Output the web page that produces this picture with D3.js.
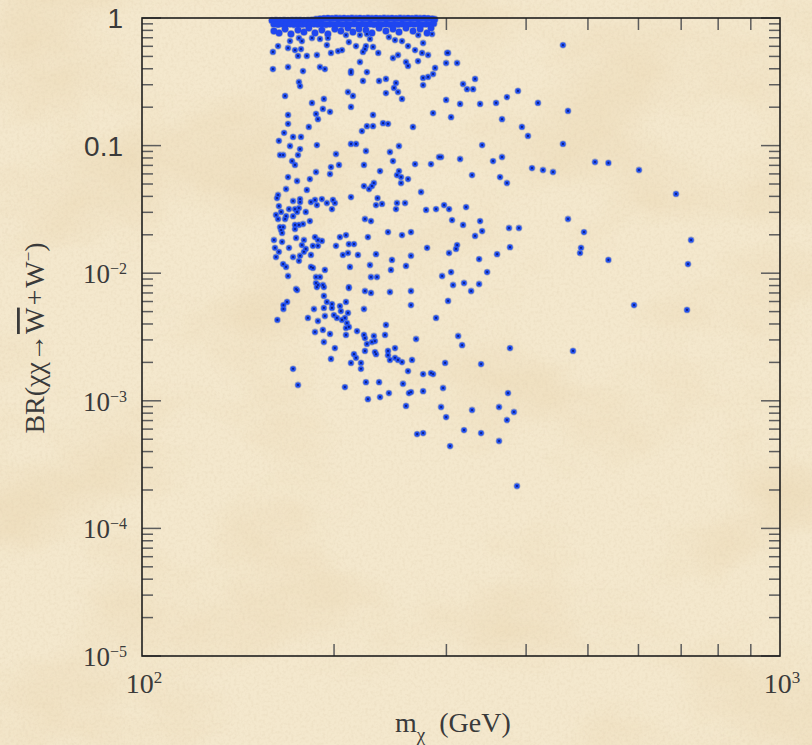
<!DOCTYPE html>
<html><head><meta charset="utf-8">
<script src="https://cdn.jsdelivr.net/npm/d3@7"></script>
<style>html,body{margin:0;padding:0;background:#f3e7cb;overflow:hidden}</style>
</head><body><svg id="chart" width="812" height="745"></svg>
<script>
// ---------------- data ----------------
const xMinorTicks = [200,300,400,500,600,700,800,900];
const yDecades = [1e-5,1e-4,1e-3,1e-2,1e-1,1];
const yMinorFactors = [2,3,4,5,6,7,8,9];
const xTickLabels = [{v:100,base:"10",exp:"2"},{v:1000,base:"10",exp:"3"}];
const yTickLabels = [
  {v:1,text:"1"},{v:0.1,text:"0.1"},
  {v:1e-2,base:"10",exp:"\u22122"},{v:1e-3,base:"10",exp:"\u22123"},
  {v:1e-4,base:"10",exp:"\u22124"},{v:1e-5,base:"10",exp:"\u22125"}
];

// dense band of models with BR close to 1: [mass GeV, BR]
const bandRow1 = [
 [159.9,0.955],[162.2,0.958],[164.6,0.955],[167.0,0.957],[169.4,0.955],[171.9,0.958],[174.4,0.956],[176.9,0.957],[179.4,0.955],[182.0,0.958],
 [184.7,0.962],[187.4,0.975],[190.1,0.985],[192.8,0.990],[195.6,0.995],[198.5,0.990],[201.4,0.996],[204.3,0.992],[207.3,0.995],[210.3,0.990],
 [213.3,0.996],[216.5,0.992],[219.6,0.995],[222.8,0.990],[226.0,0.996],[229.3,0.992],[232.7,0.995],[236.1,0.990],[239.5,0.996],[243.0,0.992],
 [246.5,0.995],[250.1,0.990],[253.8,0.996],[257.5,0.992],[261.2,0.995],[265.0,0.990],[268.9,0.996],[272.8,0.992],[276.8,0.995],[280.8,0.990],[284.9,0.985],[287.5,0.975]
];
const bandRow2 = [
 [161.0,0.895],[163.4,0.890],[165.8,0.898],[168.2,0.892],[170.6,0.897],[173.1,0.889],[175.6,0.896],[178.1,0.891],[180.7,0.898],[183.3,0.890],
 [186.0,0.896],[188.7,0.892],[191.4,0.898],[194.2,0.889],[197.0,0.896],[199.9,0.891],[202.8,0.898],[205.8,0.890],[208.8,0.896],[211.8,0.892],
 [214.9,0.898],[218.0,0.889],[221.2,0.896],[224.4,0.891],[227.7,0.898],[231.0,0.890],[234.4,0.896],[237.8,0.892],[241.2,0.898],[244.7,0.889],
 [248.3,0.896],[251.9,0.891],[255.6,0.898],[259.3,0.890],[263.1,0.896],[266.9,0.892],[270.8,0.898],[274.8,0.889],[278.8,0.896],[282.8,0.891],[286.5,0.905]
];
const bandRow3 = [
 [161.0,0.791],[164.0,0.763],[167.6,0.820],[171.2,0.749],[175.6,0.805],[179.4,0.777],[182.6,0.835],[186.7,0.763],[191.4,0.805],[195.6,0.749],
 [200.6,0.820],[205.0,0.791],[210.3,0.835],[214.1,0.777],[218.8,0.820],[224.4,0.805],[229.3,0.763],[235.3,0.835],[241.2,0.791],[247.4,0.820],
 [252.8,0.777],[259.3,0.835],[266.0,0.791],[272.8,0.820],[279.8,0.763],[283.8,0.835]
];

// scattered models: [mass GeV, BR]
const scatterPoints = [
 [160.4,0.542],[163.4,0.603],[170.6,0.660],[169.4,0.582],[173.7,0.561],[177.5,0.571],[175.6,0.504],[181.3,0.504],[188.0,0.513],[176.2,0.697],
 [178.1,0.660],[184.7,0.697],[190.1,0.685],[195.6,0.697],[194.9,0.614],[197.8,0.532],[202.9,0.551],[205.8,0.561],[208.8,0.736],[211.0,0.648],
 [216.5,0.603],[219.6,0.736],[225.2,0.749],[227.7,0.685],[230.2,0.593],[224.4,0.603],[222.0,0.542],[223.6,0.571],[234.6,0.532],[219.6,0.452],
 [243.8,0.710],[249.2,0.672],[255.6,0.660],[251.9,0.513],[247.4,0.486],[261.2,0.603],[267.9,0.561],[274.8,0.532],[280.8,0.513],[271.0,0.736],
 [275.8,0.637],[284.9,0.749],[300.8,0.532],[259.3,0.452],[261.2,0.421],[270.8,0.460],[288.0,0.406],[299.7,0.444],[311.8,0.444],[160.4,0.398],
 [169.4,0.413],[178.8,0.384],[190.1,0.413],[193.5,0.398],[212.6,0.384],[212.6,0.371],[225.2,0.377],[176.2,0.315],[176.9,0.293],[222.0,0.321],
 [235.3,0.321],[241.2,0.333],[250.1,0.310],[248.3,0.283],[251.9,0.263],[275.8,0.339],[280.8,0.345],[285.9,0.364],[275.8,0.298],[167.6,0.245],
 [184.7,0.216],[192.8,0.232],[210.3,0.263],[214.1,0.245],[241.2,0.258],[255.6,0.232],[299.7,0.228],[212.6,0.201],[192.1,0.194],[197.1,0.184],
 [187.4,0.177],[188.7,0.161],[169.4,0.174],[169.4,0.148],[182.6,0.140],[230.2,0.174],[230.2,0.142],[221.2,0.130],[225.2,0.142],[238.7,0.150],
 [243.0,0.148],[265.9,0.140],[285.9,0.180],[456.9,0.614],[301.8,0.532],[318.6,0.304],[332.7,0.333],[323.2,0.277],[330.3,0.277],[388.4,0.268],
 [315.2,0.212],[338.8,0.212],[358.9,0.216],[373.3,0.240],[417.5,0.216],[465.3,0.187],[305.1,0.167],[366.7,0.161],[394.0,0.140],[402.7,0.119],
 [341.3,0.101],[456.9,0.103],[294.3,0.0814],[315.2,0.0785],[355.0,0.0757],[366.7,0.0814],[408.6,0.0667],[425.1,0.0644],[440.8,0.0621],[512.9,0.0744],
 [538.3,0.0731],[601.2,0.0644],[687.1,0.0418],[329.1,0.0588],[364.1,0.0567],[373.3,0.0509],[297.5,0.0342],[302.9,0.0318],[322.1,0.0330],[306.2,0.0261],
 [318.6,0.0239],[338.8,0.0256],[341.3,0.0214],[332.7,0.0196],[376.1,0.0226],[389.8,0.0226],[465.3,0.0266],[492.9,0.0210],[725.4,0.0182],[311.8,0.0166],
 [310.6,0.0155],[302.9,0.0144],[377.4,0.0160],[360.2,0.0141],[487.7,0.0158],[485.9,0.0144],[337.6,0.0129],[538.3,0.0127],[717.5,0.0118],[305.1,0.0102],
 [347.5,0.0102],[295.4,0.00951],[307.3,0.00808],[319.7,0.00838],[337.6,0.00823],[328.0,0.00725],[301.8,0.00606],[590.5,0.00563],[714.9,0.00515],[313.0,0.00322],
 [317.5,0.00273],[377.4,0.00259],[473.8,0.00246],[298.6,0.00198],[340.0,0.00194],[296.4,0.00126],[374.7,0.00115],[294.3,0.000894],[329.1,0.000847],[362.8,0.000894],
 [382.8,0.000817],[373.3,0.000707],[299.7,0.000746],[319.7,0.000590],[340.0,0.000559],[362.8,0.000484],[304.0,0.000442],[387.0,0.000215],[175.0,0.00738],[188.0,0.00779],
 [192.8,0.00779],[211.0,0.00765],[223.6,0.00725],[228.5,0.00700],[244.7,0.00712],[264.0,0.00725],[168.8,0.00595],[166.6,0.00563],[166.6,0.00524],[192.8,0.00663],
 [194.9,0.00595],[198.5,0.00573],[204.3,0.00553],[208.8,0.00595],[186.0,0.00524],[192.8,0.00534],[198.5,0.00534],[205.0,0.00505],[210.3,0.00488],[222.8,0.00524],
 [264.0,0.00563],[163.0,0.00430],[182.0,0.00446],[188.7,0.00422],[193.5,0.00462],[199.9,0.00470],[202.1,0.00446],[205.8,0.00430],[208.0,0.00446],[209.5,0.00407],
 [208.8,0.00372],[211.0,0.00379],[289.0,0.00446],[241.2,0.00393],[186.7,0.00346],[192.1,0.00359],[197.1,0.00334],[208.8,0.00328],[217.3,0.00352],[222.8,0.00328],
 [223.6,0.00310],[230.9,0.00322],[240.4,0.00328],[268.9,0.00305],[192.8,0.00289],[225.2,0.00279],[229.3,0.00289],[231.8,0.00294],[200.6,0.00259],[223.6,0.00246],
 [231.8,0.00241],[232.7,0.00232],[243.0,0.00246],[249.2,0.00259],[243.0,0.00228],[249.2,0.00217],[251.9,0.00209],[255.6,0.00201],[244.7,0.00209],[214.9,0.00232],
 [216.5,0.00217],[197.8,0.00213],[212.6,0.00198],[220.4,0.00198],[265.0,0.00209],[220.4,0.00178],[172.5,0.00178],[261.2,0.00171],[275.8,0.00162],[283.8,0.00165],
 [285.9,0.00162],[175.6,0.00133],[208.0,0.00128],[224.4,0.00140],[235.3,0.00140],[256.5,0.00136],[243.8,0.00115],[262.1,0.00115],[264.0,0.00117],[275.8,0.00119],
 [226.0,0.00103],[236.1,0.00107],[259.3,0.000911],[269.9,0.000549],[275.8,0.000559],[167.0,0.126],[172.5,0.117],[177.5,0.117],[163.9,0.109],[170.6,0.0993],
 [176.9,0.0940],[188.0,0.101],[212.6,0.103],[216.5,0.103],[224.4,0.0907],[252.8,0.0993],[164.6,0.0844],[166.4,0.0844],[175.6,0.0844],[201.4,0.0859],
 [244.7,0.0891],[247.4,0.0757],[292.2,0.0814],[171.9,0.0757],[173.7,0.0705],[267.9,0.0717],[283.8,0.0717],[197.8,0.0679],[203.6,0.0705],[187.4,0.0621],
 [197.1,0.0599],[222.8,0.0705],[236.1,0.0632],[252.8,0.0632],[251.0,0.0588],[254.7,0.0567],[261.2,0.0547],[169.4,0.0567],[175.0,0.0528],[183.3,0.0547],
 [254.7,0.0509],[222.8,0.0482],[226.9,0.0457],[230.9,0.0509],[229.3,0.0482],[181.3,0.0449],[273.8,0.0433],[168.2,0.0457],[163.4,0.0410],[162.8,0.0388],
 [212.6,0.0395],[234.0,0.0388],[172.5,0.0368],[176.9,0.0381],[176.9,0.0361],[184.0,0.0361],[186.7,0.0375],[191.4,0.0381],[188.0,0.0342],[194.9,0.0355],
 [199.2,0.0375],[200.6,0.0355],[198.5,0.0318],[232.7,0.0342],[237.8,0.0349],[251.0,0.0355],[250.1,0.0318],[258.4,0.0355],[278.8,0.0313],[289.0,0.0318],
 [163.9,0.0336],[170.0,0.0318],[173.7,0.0318],[176.2,0.0324],[180.6,0.0302],[162.2,0.0286],[165.2,0.0302],[168.2,0.0280],[172.5,0.0280],[175.0,0.0302],
 [163.4,0.0266],[167.6,0.0266],[223.6,0.0266],[228.5,0.0256],[183.3,0.0256],[173.7,0.0239],[176.2,0.0239],[178.8,0.0243],[164.6,0.0230],[166.4,0.0230],
 [165.2,0.0218],[165.8,0.0207],[173.7,0.0222],[243.0,0.0210],[264.0,0.0210],[255.6,0.0199],[226.0,0.0192],[161.0,0.0182],[165.8,0.0176],[174.4,0.0189],
 [179.4,0.0182],[186.7,0.0192],[188.7,0.0182],[191.4,0.0179],[204.3,0.0192],[208.8,0.0199],[161.6,0.0158],[170.0,0.0158],[178.1,0.0166],[180.6,0.0155],
 [185.3,0.0164],[188.7,0.0164],[201.4,0.0164],[211.0,0.0169],[214.9,0.0169],[279.8,0.0158],[163.9,0.0147],[162.2,0.0134],[179.4,0.0147],[184.0,0.0139],
 [172.5,0.0134],[176.9,0.0137],[176.2,0.0125],[206.5,0.0139],[210.3,0.0144],[218.0,0.0139],[232.7,0.0141],[264.0,0.0137],[246.5,0.0127],[166.4,0.0118],
 [168.2,0.0112],[169.4,0.00951],[184.0,0.0112],[185.3,0.0110],[193.5,0.0106],[211.8,0.0112],[227.7,0.0116],[245.6,0.0106],[259.3,0.0114],[187.4,0.00934],
 [190.1,0.00934],[228.5,0.00934],[233.5,0.00934],[187.4,0.00838],[188.7,0.00808],[192.1,0.00808],[211.0,0.00779],[174.4,0.00752]
];

// ---------------- drawing ----------------
const W = 812, H = 745;
const L = 142, R = 780, T = 18, B = 656;
const svg = d3.select("#chart");
const x = d3.scaleLog().domain([100,1000]).range([L,R]);
const y = d3.scaleLog().domain([1e-5,1]).range([B,T]);

// parchment background
const defs = svg.append("defs");
const f1 = defs.append("filter").attr("id","paper").attr("x",0).attr("y",0).attr("width","100%").attr("height","100%");
f1.append("feTurbulence").attr("type","fractalNoise").attr("baseFrequency","0.006 0.009").attr("numOctaves",4).attr("seed",11);
f1.append("feColorMatrix").attr("type","matrix")
  .attr("values","0 0 0 0 0.80  0 0 0 0 0.64  0 0 0 0 0.40  1.8 0 0 0 -0.80");
const f2 = defs.append("filter").attr("id","grain").attr("x",0).attr("y",0).attr("width","100%").attr("height","100%");
f2.append("feTurbulence").attr("type","fractalNoise").attr("baseFrequency","0.35").attr("numOctaves",2).attr("seed",4);
f2.append("feColorMatrix").attr("type","matrix")
  .attr("values","0 0 0 0 0.72  0 0 0 0 0.60  0 0 0 0 0.42  1.5 0 0 0 -0.62");

svg.append("rect").attr("width",W).attr("height",H).attr("fill","#f4e8cd");
svg.append("rect").attr("width",W).attr("height",H).attr("filter","url(#paper)").attr("opacity",0.6);
svg.append("rect").attr("width",W).attr("height",H).attr("filter","url(#grain)").attr("opacity",0.4);

// ticks
const tickG = svg.append("g").attr("stroke","#5c5c5c").attr("stroke-width",1.5);
const minorLen = 11, majorLen = 19;
yDecades.forEach(d => {
  const yy = y(d);
  tickG.append("line").attr("x1",L).attr("x2",L+majorLen).attr("y1",yy).attr("y2",yy);
  tickG.append("line").attr("x1",R).attr("x2",R-majorLen).attr("y1",yy).attr("y2",yy);
  if (d < 1) yMinorFactors.forEach(k => {
    const yv = y(d*k);
    tickG.append("line").attr("x1",L).attr("x2",L+minorLen).attr("y1",yv).attr("y2",yv);
    tickG.append("line").attr("x1",R).attr("x2",R-minorLen).attr("y1",yv).attr("y2",yv);
  });
});
xMinorTicks.forEach(v => {
  const xx = x(v);
  tickG.append("line").attr("x1",xx).attr("x2",xx).attr("y1",B).attr("y2",B-12);
  tickG.append("line").attr("x1",xx).attr("x2",xx).attr("y1",T).attr("y2",T+12);
});

// points
const ptG = svg.append("g");
const bandAll = bandRow1.concat(bandRow2, bandRow3);
// outline pass (grey halo), then blue fill, then dark centres
ptG.selectAll("circle.bo").data(bandAll).join("circle").attr("class","bo")
  .attr("cx",d=>x(d[0])).attr("cy",d=>y(d[1])).attr("r",3.9).attr("fill","#9da3bd");
ptG.selectAll("circle.so").data(scatterPoints).join("circle").attr("class","so")
  .attr("cx",d=>x(d[0])).attr("cy",d=>y(d[1])).attr("r",3.4).attr("fill","#9da3bd");
ptG.selectAll("circle.bf").data(bandAll).join("circle").attr("class","bf")
  .attr("cx",d=>x(d[0])).attr("cy",d=>y(d[1])).attr("r",3.2).attr("fill","#1f46f0");
ptG.selectAll("circle.sf").data(scatterPoints).join("circle").attr("class","sf")
  .attr("cx",d=>x(d[0])).attr("cy",d=>y(d[1])).attr("r",2.6).attr("fill","#2150f0");
ptG.selectAll("circle.sc").data(scatterPoints).join("circle").attr("class","sc")
  .attr("cx",d=>x(d[0])).attr("cy",d=>y(d[1])).attr("r",1.1).attr("fill","#0a1c86");

// frame
svg.append("rect").attr("x",L).attr("y",T).attr("width",R-L).attr("height",B-T)
  .attr("fill","none").attr("stroke","#1e1e1e").attr("stroke-width",1.6);

// y tick labels
const labG = svg.append("g").attr("fill","#3a3a3a");
yTickLabels.forEach(t => {
  const yy = y(t.v);
  if (t.text) {
    labG.append("text").attr("x",123).attr("y",yy+10).attr("text-anchor","end")
      .attr("font-family","'Liberation Sans', Arial, sans-serif").attr("font-size",28).text(t.text);
  } else {
    const tx = labG.append("text").attr("x",127).attr("y",yy+10).attr("text-anchor","end")
      .attr("font-family","'Liberation Serif', 'Times New Roman', serif").attr("font-size",27);
    tx.append("tspan").text(t.base);
    tx.append("tspan").attr("font-size",16).attr("dy",-9).text(t.exp);
  }
});
// x tick labels
xTickLabels.forEach(t => {
  const tx = labG.append("text").attr("x",x(t.v)+2).attr("y",693).attr("text-anchor","middle")
    .attr("font-family","'Liberation Serif', 'Times New Roman', serif").attr("font-size",28);
  tx.append("tspan").text(t.base);
  tx.append("tspan").attr("font-size",17).attr("dy",-10).text(t.exp);
});

// axis titles
const xt = labG.append("text").attr("x",395).attr("y",732)
  .attr("font-family","'Liberation Serif', 'Times New Roman', serif").attr("font-size",28);
xt.append("tspan").text("m");
xt.append("tspan").attr("font-size",19).attr("dy",9).text("\u03C7");
xt.append("tspan").attr("dy",-9).attr("dx",14).text("(GeV)");

const yt = labG.append("text").attr("transform","translate(44,338) rotate(-90)").attr("text-anchor","middle")
  .attr("font-family","'Liberation Serif', 'Times New Roman', serif").attr("font-size",28);
yt.append("tspan").text("BR(\u03C7\u03C7\u2192");
yt.append("tspan").attr("style","text-decoration:overline").text("W");
yt.append("tspan").attr("dx",2).text("+");
yt.append("tspan").attr("dx",2).text("W");
yt.append("tspan").attr("font-size",17).attr("dy",-10).text("\u2212");
yt.append("tspan").attr("dy",10).text(")");
</script></body></html>
